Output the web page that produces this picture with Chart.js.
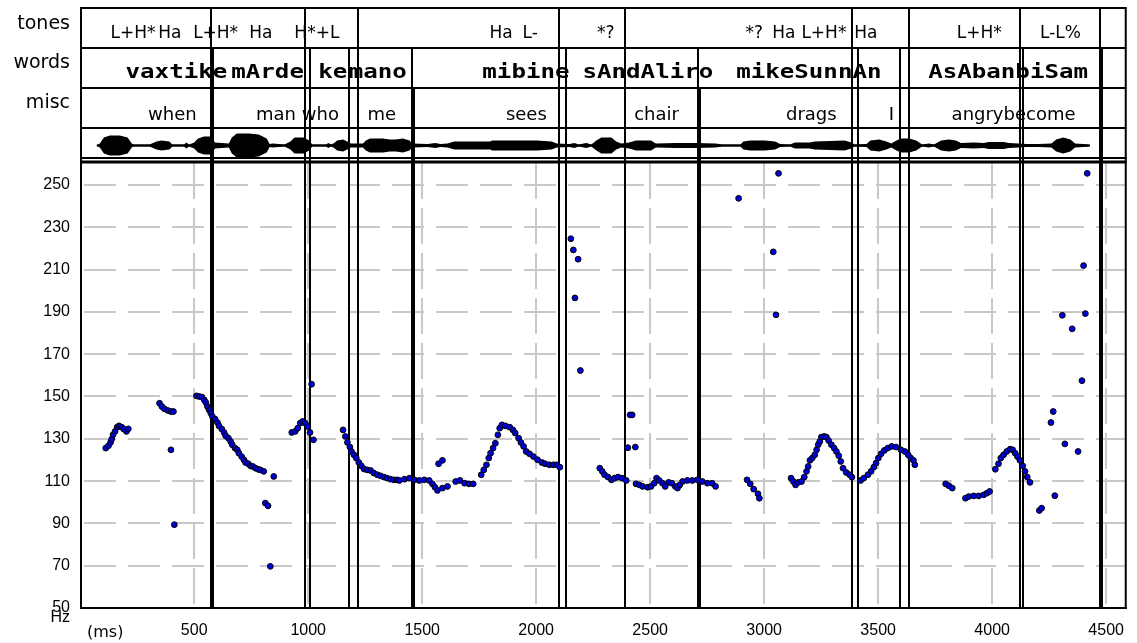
<!DOCTYPE html>
<html>
<head>
<meta charset="utf-8">
<script src="https://cdn.jsdelivr.net/npm/chart.js@4.4.1/dist/chart.umd.min.js"></script>
<style>
  html, body { margin: 0; padding: 0; background: #fff; }
</style>
</head>
<body>
<canvas id="pitchChart" width="1137" height="643"></canvas>
<script>
// F0 track (time in ms, pitch in Hz)
const pitchMs = [
  112, 124, 133, 138, 144, 153, 162, 170, 182, 191, 203, 211,
  348, 358, 369, 384, 398, 409, 398, 413,
  510, 522, 534, 544, 551, 558, 565, 573, 580, 592, 602, 609, 621, 631, 638, 650, 660, 667, 679, 689,
  696, 708, 718, 725, 737, 747, 757, 769, 780, 790, 805, 812, 824, 834, 849,
  928, 943, 954, 965, 975, 987, 998, 1008, 1015, 1023,
  1153, 1163, 1172, 1183, 1190, 1201, 1211, 1222, 1233, 1245, 1259, 1274, 1288, 1303, 1317, 1332, 1346,
  1361, 1376, 1390, 1400, 1422, 1444, 1466, 1487, 1509, 1531, 1545, 1556, 1567, 1572, 1589, 1589, 1611,
  1647, 1666, 1686, 1705, 1724,
  1759, 1770, 1782, 1792, 1800, 1811, 1821, 1832, 1840, 1850, 1865, 1884, 1898, 1908, 1923, 1933, 1945,
  1956, 1971, 1988, 2006, 2025, 2039, 2058, 2075, 2090, 2104,
  2152, 2163, 2170, 2184, 2194,
  2279, 2290, 2300, 2315, 2330, 2344, 2359, 2377, 2395, 2402, 2412, 2421, 2435,
  2438, 2453, 2467, 2489, 2504, 2518, 2528, 2540, 2554, 2566, 2581, 2595, 2610, 2620, 2630, 2642, 2663,
  2685, 2707, 2729, 2751, 2772, 2787,
  2888, 2925, 2939, 2954, 2973, 2979, 3040, 3052, 3063,
  3118, 3128, 3138, 3150, 3164, 3176, 3186, 3193, 3201, 3211, 3222, 3230, 3237, 3244, 3251, 3263, 3273,
  3283, 3295, 3307, 3317, 3327, 3336, 3346, 3360, 3375, 3385,
  3423, 3437, 3455, 3469, 3481, 3491, 3501, 3513, 3527, 3542, 3559, 3578, 3600, 3617, 3632, 3643, 3655, 3661,
  3796, 3810, 3825, 3883, 3897, 3919, 3941, 3963, 3977, 3989,
  4014, 4028, 4038, 4050, 4064, 4079, 4090, 4101, 4111, 4122, 4134, 4144, 4154, 4166,
  4207, 4217, 4258, 4268, 4275, 4308, 4319, 4351, 4377, 4394, 4401, 4409, 4417
];
const pitchHz = [
  125.6, 126.7, 128.3, 129.8, 131.9, 133.5, 135.5, 136.1, 135.5, 134.6, 133.5, 134.7,
  146.8, 145.3, 144.2, 143.4, 142.9, 142.9, 124.8, 89.4,
  150.3, 150.0, 149.7, 148.4, 147.2, 145.3, 143.7, 142.1, 140.5, 139.3, 137.7, 136.1, 134.6, 133.0, 131.4, 130.3, 128.7, 127.2, 125.6, 124.8,
  123.2, 121.6, 120.1, 118.8, 118.2, 117.2, 116.9, 116.1, 115.6, 115.3, 114.6, 99.6, 98.3, 69.7, 112.2,
  133.0, 133.5, 135.0, 137.4, 138.2, 137.4, 135.8, 133.0, 155.8, 129.5,
  134.2, 131.1, 128.3, 126.1, 124.0, 122.4, 120.9, 118.8, 117.2, 115.7, 115.3, 115.0, 113.8, 113.0, 112.5, 111.9, 111.4,
  110.9, 110.6, 110.6, 110.3, 110.9, 111.4, 110.6, 110.3, 110.6, 110.3, 108.7, 107.1, 105.6, 118.2, 119.8, 106.7, 107.5,
  109.8, 110.3, 109.0, 108.7, 108.7,
  113.0, 115.3, 117.7, 120.9, 123.2, 125.6, 127.9, 131.9, 135.0, 136.6, 136.1, 135.5, 134.2, 132.7, 130.3, 128.3, 126.4,
  124.0, 122.9, 121.6, 120.1, 118.8, 118.2, 117.7, 117.7, 117.7, 116.6,
  224.6, 219.3, 196.6, 214.9, 162.3,
  116.1, 114.6, 113.0, 111.9, 110.6, 111.4, 111.9, 111.4, 110.3, 125.8, 141.3, 141.3, 126.1,
  108.7, 108.2, 107.5, 107.1, 107.5, 109.0, 111.4, 110.3, 109.0, 107.5, 109.4, 109.0, 107.5, 106.7, 108.2, 109.8, 110.3,
  110.3, 110.6, 109.8, 109.0, 109.0, 107.5,
  243.7, 110.6, 108.7, 106.2, 104.0, 101.9, 218.4, 188.6, 255.5,
  111.4, 109.8, 108.2, 109.4, 109.8, 111.9, 114.6, 116.9, 119.8, 120.9, 122.4, 124.8, 127.2, 128.7, 130.8, 131.1, 130.8,
  129.2, 127.2, 125.6, 124.0, 122.0, 119.3, 116.1, 114.1, 113.0, 111.9,
  110.3, 111.4, 113.0, 114.6, 116.6, 118.5, 120.9, 122.9, 124.5, 125.6, 126.4, 126.1, 124.8, 124.0, 122.4, 120.9, 119.8, 117.7,
  108.7, 107.8, 106.7, 101.9, 102.7, 103.0, 103.0, 103.5, 104.3, 105.1,
  115.6, 118.2, 120.9, 122.4, 124.0, 125.1, 124.8, 123.2, 121.6, 119.8, 117.2, 114.6, 111.9, 109.4,
  96.1, 97.2, 137.7, 142.9, 103.1, 188.4, 127.6, 182.0, 124.0, 157.5, 211.9, 189.2, 255.5
];

const xTicks = [500, 1000, 1500, 2000, 2500, 3000, 3500, 4000, 4500];
const yTicks = [50, 70, 90, 110, 130, 150, 170, 190, 210, 230, 250];

// tier boundaries (ms)
const toneBounds = [574, 988, 1219, 2098, 2390, 3384, 3636, 4124, 4475];
const wordBounds = [583, 1010, 1180, 1457, 2129, 2711, 3410, 3597, 4137, 4484];
const miscBounds = [1462, 2717];

// tier labels and their centre times (ms)
const toneLabels = ['L+H*', 'Ha', 'L+H*', 'Ha', 'H*+L', 'Ha', 'L-', '*?', '*?', 'Ha', 'L+H*', 'Ha', 'L+H*', 'L-L%'];
const toneTimes  = [232, 393, 594, 792, 1038, 1846, 1974, 2305, 2957, 3086, 3262, 3446, 3944, 4300];
const wordLabels = ['vaxtike', 'mArde', 'ke', 'mano', 'mibine', 'sAndAliro', 'mikeSunnAn', 'AsAbanbiSam'];
const wordTimes  = [422, 822, 1108, 1305, 1955, 2490, 3196, 4070];
const miscLabels = ['when', 'man who', 'me', 'sees', 'chair', 'drags', 'I', 'angrybecome'];
const miscTimes  = [404, 953, 1323, 1957, 2528, 3207, 3558, 4094];

// waveform envelope (ms, relative amplitude)
const waveMs = [
  73, 86, 104, 130, 173, 208, 226, 234, 304, 335, 356, 391, 404, 456, 465, 478, 500, 517, 543, 578,
  591, 652, 665, 687, 740, 783, 818, 831, 844, 870, 896, 922, 940, 979, 1005, 1018, 1079, 1088, 1101,
  1114, 1127, 1153, 1171, 1188, 1240, 1253, 1271, 1328, 1358, 1384, 1415, 1445, 1454, 1524, 1558, 1580,
  1611, 1641, 1698, 1742, 1798, 1807, 1916, 2003, 2068, 2090, 2146, 2168, 2186, 2220, 2242, 2264, 2286,
  2330, 2351, 2373, 2408, 2438, 2504, 2525, 2612, 2699, 2787, 2817, 2896, 2909, 2939, 3004, 3048, 3070,
  3113, 3135, 3200, 3222, 3353, 3383, 3396, 3449, 3466, 3505, 3536, 3558, 3580, 3601, 3636, 3667, 3693,
  3723, 3745, 3776, 3811, 3841, 3863, 3920, 3963, 3985, 4051, 4073, 4116, 4151, 4203, 4260, 4281, 4312,
  4343, 4364, 4399, 4425, 4429
];
const waveAmp = [
  0.04, 0.17, 0.67, 0.83, 0.83, 0.67, 0.17, 0.08, 0.08, 0.33, 0.42, 0.33, 0.08, 0.08, 0.25, 0.08, 0.25, 0.58, 0.75, 0.75,
  0.25, 0.17, 0.67, 1, 1, 0.92, 0.58, 0.12, 0.17, 0.12, 0.08, 0.33, 0.67, 0.67, 0.42, 0.08, 0.08, 0.21, 0.08,
  0.21, 0.42, 0.5, 0.33, 0.17, 0.17, 0.42, 0.58, 0.58, 0.5, 0.5, 0.58, 0.42, 0.17, 0.12, 0.21, 0.12,
  0.17, 0.33, 0.33, 0.33, 0.33, 0.42, 0.42, 0.42, 0.33, 0.17, 0.12, 0.21, 0.08, 0.21, 0.08, 0.42, 0.67,
  0.67, 0.33, 0.17, 0.25, 0.42, 0.42, 0.17, 0.21, 0.21, 0.17, 0.08, 0.08, 0.33, 0.42, 0.42, 0.33, 0.12,
  0.08, 0.25, 0.25, 0.33, 0.42, 0.25, 0.08, 0.12, 0.42, 0.5, 0.33, 0.17, 0.42, 0.58, 0.58, 0.42, 0.08,
  0.17, 0.08, 0.42, 0.5, 0.42, 0.21, 0.25, 0.21, 0.29, 0.29, 0.21, 0.17, 0.12, 0.12, 0.17, 0.5, 0.67,
  0.5, 0.17, 0.12, 0.08, 0
];

// layout rows above the plot (px)
const ROW_TONES = 8, ROW_WORDS = 48, ROW_MISC = 88, ROW_WAVE = 128, WAVE_BOTTOM = 158, PLOT_TOP = 162;
const WAVE_MID = 145.5, WAVE_HALF = 12;

const tiersPlugin = {
    id: 'tiers',
    beforeDatasetsDraw(chart) {
        const { ctx, chartArea: a, scales: { x } } = chart;
        ctx.save();

        // waveform
        ctx.fillStyle = '#000';
        ctx.beginPath();
        waveMs.forEach((t, i) => {
            const px = x.getPixelForValue(t);
            const py = WAVE_MID - waveAmp[i] * WAVE_HALF;
            if (i === 0) ctx.moveTo(px, py); else ctx.lineTo(px, py);
        });
        for (let i = waveMs.length - 1; i >= 0; i--) {
            ctx.lineTo(x.getPixelForValue(waveMs[i]), WAVE_MID + waveAmp[i] * WAVE_HALF);
        }
        ctx.closePath();
        ctx.fill();
        const w0 = x.getPixelForValue(waveMs[0]);
        const w1 = x.getPixelForValue(waveMs[waveMs.length - 1]);
        ctx.fillRect(w0, WAVE_MID - 1, w1 - w0, 2);

        // horizontal tier lines
        ctx.strokeStyle = '#000';
        ctx.lineWidth = 2;
        [ROW_TONES, ROW_WORDS, ROW_MISC, ROW_WAVE, WAVE_BOTTOM].forEach(y => {
            ctx.beginPath();
            ctx.moveTo(a.left - 1, y);
            ctx.lineTo(a.right + 1, y);
            ctx.stroke();
        });
        ctx.lineWidth = 3;
        ctx.beginPath();
        ctx.moveTo(a.left - 1, PLOT_TOP);
        ctx.lineTo(a.right + 1, PLOT_TOP);
        ctx.stroke();

        // outer left / right frame
        ctx.lineWidth = 2;
        ctx.beginPath();
        ctx.moveTo(a.left, ROW_TONES);
        ctx.lineTo(a.left, a.top);
        ctx.moveTo(a.right, ROW_TONES);
        ctx.lineTo(a.right, a.bottom);
        ctx.stroke();

        // boundaries run from their tier down to the plot bottom
        const vline = (t, top) => {
            const px = Math.round(x.getPixelForValue(t));
            ctx.beginPath();
            ctx.moveTo(px, top);
            ctx.lineTo(px, a.bottom);
            ctx.stroke();
        };
        toneBounds.forEach(t => vline(t, ROW_TONES));
        wordBounds.forEach(t => vline(t, ROW_WORDS));
        miscBounds.forEach(t => vline(t, ROW_MISC));

        // tier names
        ctx.fillStyle = '#000';
        ctx.textAlign = 'right';
        ctx.textBaseline = 'alphabetic';
        ctx.font = '19px "DejaVu Sans"';
        ctx.fillText('tones', 70, 29);
        ctx.fillText('words', 70, 68);
        ctx.fillText('misc', 70, 108);

        // tier texts
        ctx.textAlign = 'center';
        ctx.font = '17px "DejaVu Sans"';
        toneLabels.forEach((s, i) => ctx.fillText(s, x.getPixelForValue(toneTimes[i]), 38));
        ctx.font = '18px "DejaVu Sans"';
        miscLabels.forEach((s, i) => ctx.fillText(s, x.getPixelForValue(miscTimes[i]), 120));

        ctx.font = 'bold 19px "DejaVu Sans Mono"';
        wordLabels.forEach((s, i) => {
            ctx.save();
            ctx.translate(x.getPixelForValue(wordTimes[i]), 78);
            ctx.scale(1.27, 1);
            ctx.fillText(s, 0, 0);
            ctx.restore();
        });

        // unit labels
        ctx.font = '16px "Liberation Sans", Arial, sans-serif';
        ctx.textAlign = 'right';
        ctx.fillText('Hz', 70, 622);
        ctx.textAlign = 'left';
        ctx.font = '16px "DejaVu Sans"';
        ctx.fillText('(ms)', 87, 637);

        ctx.restore();
    }
};

const ctx = document.getElementById('pitchChart');
new Chart(ctx, {
    type: 'scatter',
    data: {
        datasets: [{
            label: 'F0',
            data: pitchMs.map((t, i) => ({ x: t, y: pitchHz[i] })),
            backgroundColor: '#0000d8',
            borderColor: '#000',
            borderWidth: 1,
            pointRadius: 2.9,
            pointHoverRadius: 2.9
        }]
    },
    options: {
        responsive: false,
        animation: false,
        layout: { padding: { top: 163, right: 4, left: 0, bottom: 0 } },
        plugins: {
            legend: { display: false },
            tooltip: { enabled: false }
        },
        scales: {
            x: {
                type: 'linear',
                min: 3.5,
                max: 4586,
                afterBuildTicks: s => { s.ticks = xTicks.map(v => ({ value: v })); },
                afterFit: s => { s.height = 35; },
                grid: { color: '#c8c8c8', lineWidth: 2, drawTicks: false },
                border: { display: true, color: '#000', width: 2, dash: [36, 9], dashOffset: 0 },
                ticks: {
                    color: '#000',
                    padding: 13,
                    maxRotation: 0,
                    callback: v => String(v),
                    font: { family: '"Liberation Sans", Arial, sans-serif', size: 16 }
                }
            },
            y: {
                min: 50,
                max: 260.4,
                afterBuildTicks: s => { s.ticks = yTicks.map(v => ({ value: v })); },
                afterFit: s => { s.width = 81; },
                grid: { color: '#c8c8c8', lineWidth: 2, drawTicks: false },
                border: { display: true, color: '#000', width: 2, dash: [32, 12], dashOffset: -2 },
                ticks: {
                    color: '#000',
                    padding: 11,
                    callback: v => String(v),
                    font: { family: '"Liberation Sans", Arial, sans-serif', size: 16 }
                }
            }
        }
    },
    plugins: [tiersPlugin]
});
</script>
</body>
</html>
